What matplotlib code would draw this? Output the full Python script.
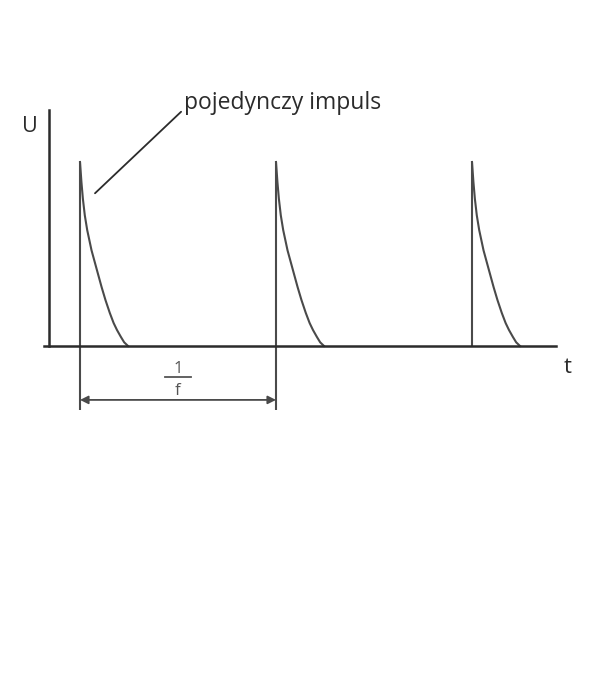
import numpy as np
import matplotlib
matplotlib.use("Agg")
from matplotlib import pyplot as plt

# pulse train, time in periods (1/f), voltage normalised to the peak
pulse_starts = [0.0, 1.0, 2.0]
peak = 1.0
decay_len = 0.245
# decay shape of a single pulse
decay_s = [0.0, 0.03, 0.06, 0.10, 0.15, 0.24, 0.35, 0.45, 0.53, 0.62, 0.70, 0.77, 0.85, 0.92, 1.0]
decay_u = [1.0, 0.89, 0.80, 0.71, 0.63, 0.52, 0.415, 0.32, 0.25, 0.18, 0.125, 0.087, 0.05, 0.02, 0.0]

label_pulse = "pojedynczy impuls"
label_u = "U"
label_t = "t"

plt.rcParams['font.family'] = ['Open Sans', 'DejaVu Sans']
ink = "#2b2b2b"
grey = "#4a4a4a"

fig = plt.figure(figsize=(6, 7), dpi=100)
ax = fig.add_axes([44 / 600, 1 - 346 / 700, 512 / 600, 236 / 700])
ax.set_xlim(-0.1837, 2.4286)
ax.set_ylim(0, 1.2826)
ax.patch.set_visible(False)
ax.set_xticks([])
ax.set_yticks([])
for side in ("top", "right"):
	ax.spines[side].set_visible(False)
ax.spines["left"].set_position(("data", -0.158))
ax.spines["bottom"].set_position(("data", 0))
for side in ("left", "bottom"):
	ax.spines[side].set_linewidth(1.8)
	ax.spines[side].set_color(ink)

# pulses: vertical rise, then the decay tail
ds = np.array(decay_s)
du = np.array(decay_u)
for i, t0 in enumerate(pulse_starts):
	bottom = -0.348 if i < 2 else 0.0
	ax.plot([t0, t0], [bottom, peak], color=grey, lw=1.5, clip_on=False,
			solid_capstyle="butt")
	ax.plot(t0 + ds * decay_len, du * peak, color=grey, lw=1.5, clip_on=False)

# period dimension
ax.annotate("", xy=(pulse_starts[0], -0.293), xytext=(pulse_starts[1], -0.293),
			arrowprops=dict(arrowstyle="<|-|>", color=grey, lw=1.3,
							mutation_scale=12, shrinkA=0, shrinkB=0),
			annotation_clip=False)
mid = (pulse_starts[0] + pulse_starts[1]) / 2
ax.text(mid, -0.145, "1", ha="center", va="baseline", fontsize=12, color="#555555")
ax.plot([mid - 0.068, mid + 0.068], [-0.169, -0.169], color="#555555", lw=1.3,
		clip_on=False)
ax.text(mid, -0.267, "f", ha="center", va="baseline", fontsize=12, color="#555555")

# axis labels
ax.text(-0.255, 1.195, label_u, ha="center", va="center", fontsize=15.5, color=ink)
ax.text(2.49, -0.115, label_t, ha="center", va="center", fontsize=16, color=ink)

# leader to the first pulse
ax.annotate(label_pulse, xy=(0.0765, 0.83), xytext=(0.53, 1.32),
			ha="left", va="center", fontsize=16.5, color=ink,
			arrowprops=dict(arrowstyle="-", color=ink, lw=1.3, shrinkA=0, shrinkB=0,
							relpos=(0, 0.25)),
			annotation_clip=False)

fig.savefig("out.png", dpi=100)
